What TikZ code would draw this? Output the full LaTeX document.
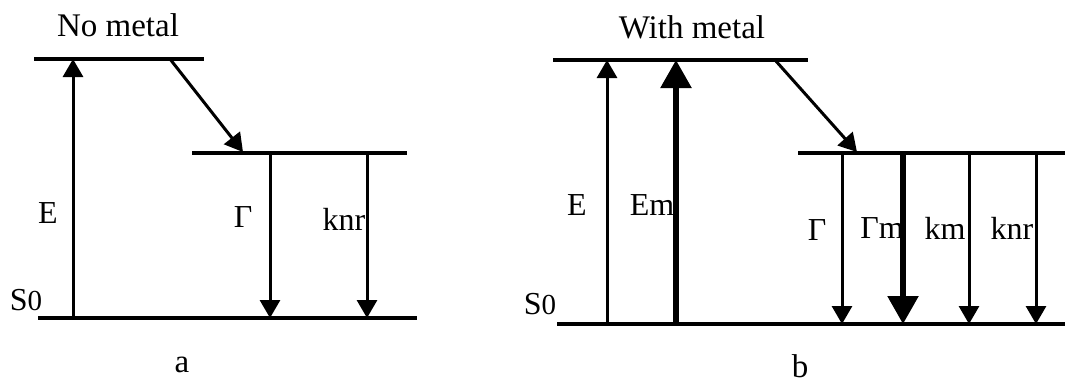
\documentclass[tikz,border=0pt]{standalone}
\usepackage{fontspec}
\setmainfont{Liberation Serif}
\usetikzlibrary{arrows.meta}
\begin{document}
\begin{tikzpicture}[x=1pt,y=-1pt,
  level/.style={line width=3.5pt},
  thinarrow/.style={line width=3pt,-{Triangle[length=18pt,width=20pt]}},
  thickarrow/.style={line width=5.5pt,-{Triangle[length=28pt,width=30pt]}},
  lbl/.style={font=\fontsize{32}{38}\selectfont, inner sep=0pt},
  ttl/.style={font=\fontsize{33}{39}\selectfont, inner sep=0pt},
]
\useasboundingbox[fill=white] (0,0) rectangle (1065,386);
% ---------- panel a ----------
\coordinate (aTL) at (34,59);  \coordinate (aTR) at (204,59);
\coordinate (aML) at (192,153); \coordinate (aMR) at (407,153);
\coordinate (aBL) at (38,318);  \coordinate (aBR) at (417,318);
\draw[level] (aTL) -- (aTR);
\draw[level] (aML) -- (aMR);
\draw[level] (aBL) -- (aBR);
\coordinate (aEb) at (73,318);  \coordinate (aEt) at (73,59);
\coordinate (aDs) at (170,59);  \coordinate (aDe) at (243,152);
\coordinate (aGt) at (270,153); \coordinate (aGb) at (270,318);
\coordinate (aKt) at (367,153); \coordinate (aKb) at (367,318);
\draw[thinarrow] (aEb) -- (aEt);
\draw[thinarrow] (aDs) -- (aDe);
\draw[thinarrow] (aGt) -- (aGb);
\draw[thinarrow] (aKt) -- (aKb);
\node[ttl] (atitle) at (118,25) {No metal};
\node[lbl] (aE) at (48,213) {E};
\node[lbl] (aG) at (243,217) {Γ};
\node[lbl] (aK) at (344,219) {knr};
\node[lbl] (aS) at (26,300) {S{\fontsize{29}{32}\selectfont 0}};
\node[ttl] (alab) at (182,365) {a};
% ---------- panel b ----------
\coordinate (bTL) at (553,60);  \coordinate (bTR) at (808,60);
\coordinate (bML) at (798,153); \coordinate (bMR) at (1065,153);
\coordinate (bBL) at (557,324); \coordinate (bBR) at (1065,324);
\draw[level] (bTL) -- (bTR);
\draw[level] (bML) -- (bMR);
\draw[level] (bBL) -- (bBR);
\coordinate (bEb) at (607,324);  \coordinate (bEt) at (607,60);
\coordinate (bEmb) at (676,324); \coordinate (bEmt) at (676,60);
\coordinate (bDs) at (775,60);   \coordinate (bDe) at (857,152);
\coordinate (bGt) at (842,153);  \coordinate (bGb) at (842,324);
\coordinate (bGmt) at (903,153); \coordinate (bGmb) at (903,324);
\coordinate (bkmt) at (969,153); \coordinate (bkmb) at (969,324);
\coordinate (bknt) at (1036,153); \coordinate (bknb) at (1036,324);
\draw[thinarrow] (bEb) -- (bEt);
\draw[thickarrow] (bEmb) -- (bEmt);
\draw[thinarrow] (bDs) -- (bDe);
\draw[thinarrow] (bGt) -- (bGb);
\draw[thickarrow] (bGmt) -- (bGmb);
\draw[thinarrow] (bkmt) -- (bkmb);
\draw[thinarrow] (bknt) -- (bknb);
\node[ttl] (btitle) at (692,27) {With metal};
\node[lbl] (bE) at (577,205) {E};
\node[lbl] (bEm) at (652,205) {Em};
\node[lbl] (bG) at (817,230) {Γ};
\node[lbl] (bGm) at (882,228) {Γm};
\node[lbl] (bkm) at (945,228) {km};
\node[lbl] (bkn) at (1012,228) {knr};
\node[lbl] (bS) at (540,304) {S{\fontsize{29}{32}\selectfont 0}};
\node[ttl] (blab) at (800,366) {b};
\end{tikzpicture}
\end{document}
